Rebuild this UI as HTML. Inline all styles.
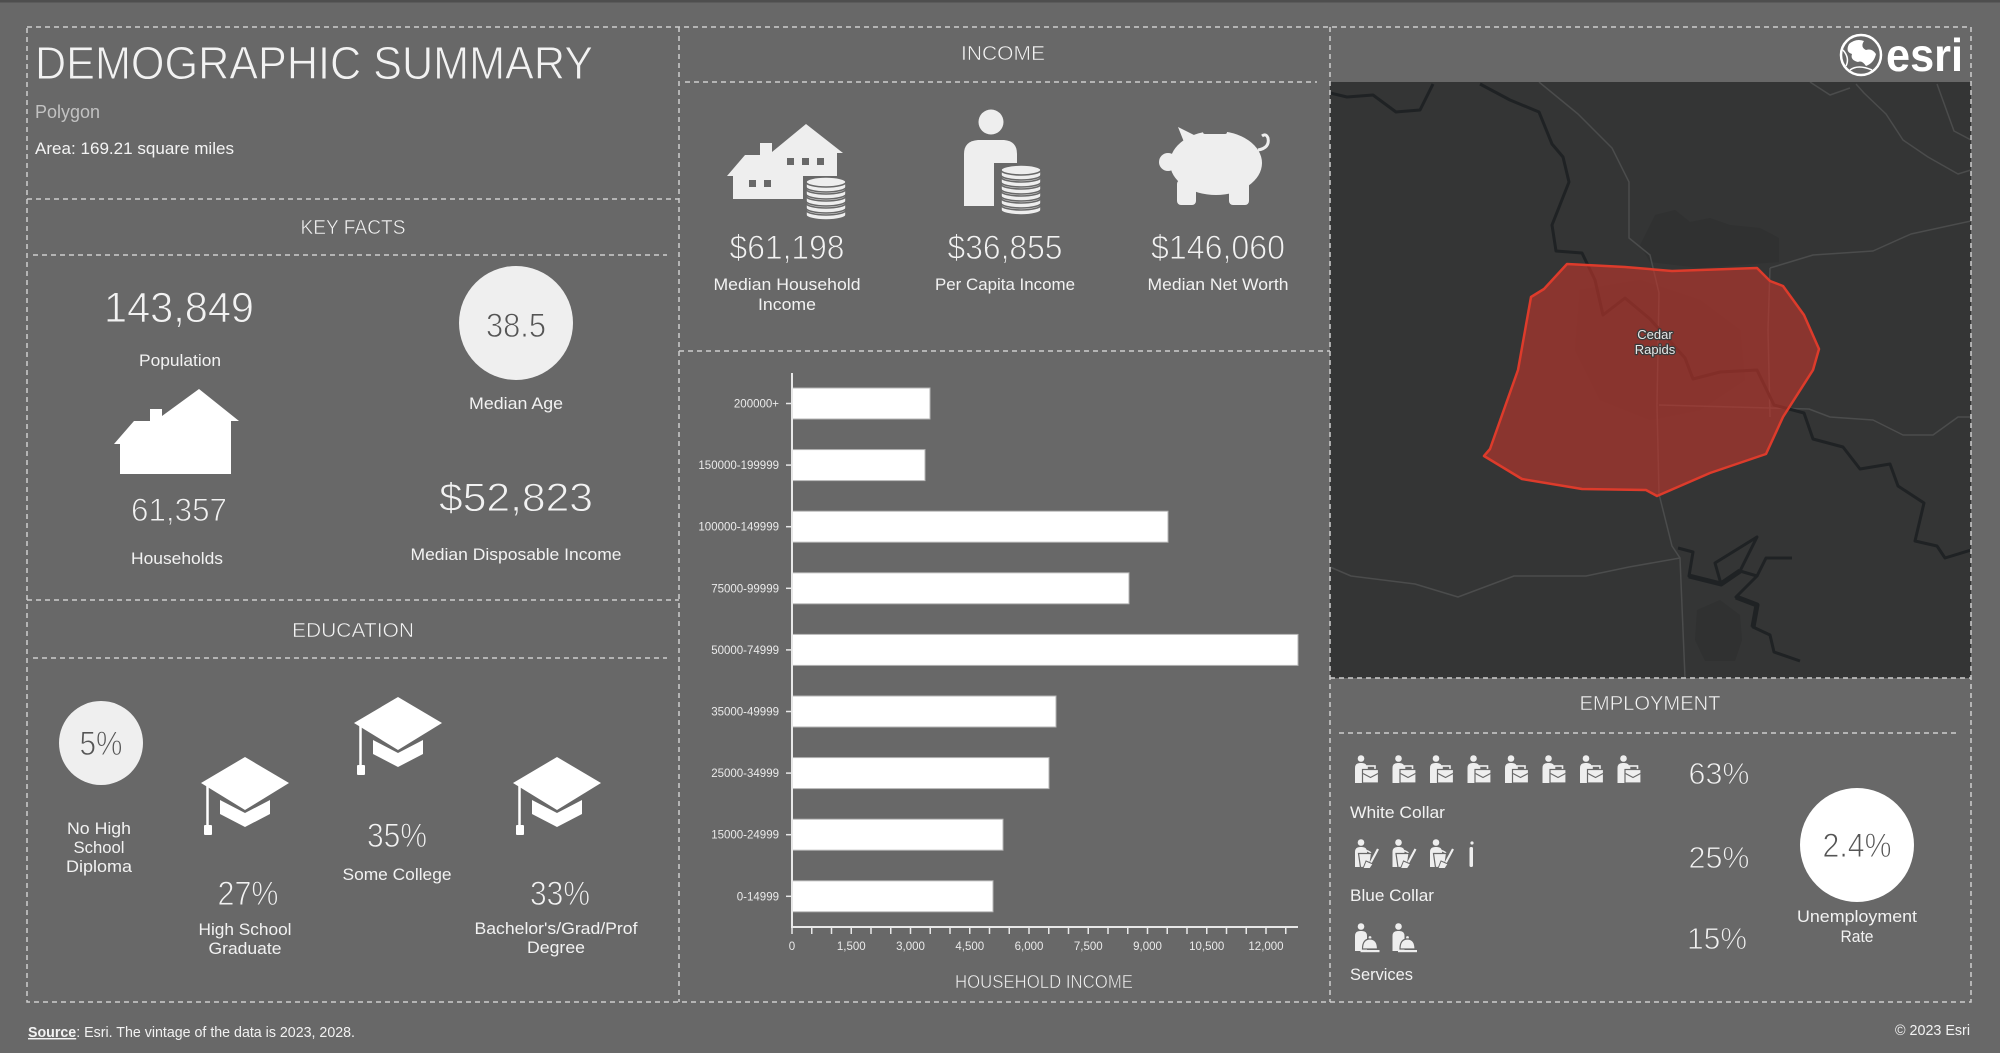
<!DOCTYPE html>
<html><head><meta charset="utf-8"><style>
html,body{margin:0;padding:0;background:#686868;}
svg{display:block;}
text{font-family:"Liberation Sans",sans-serif;}
.thin{stroke:#686868;stroke-width:0.9px;paint-order:normal;}
.thin2{stroke:#686868;stroke-width:0.5px;paint-order:normal;}
</style></head><body>
<svg width="2000" height="1053" viewBox="0 0 2000 1053" xmlns="http://www.w3.org/2000/svg">
<defs>
<clipPath id="mapclip"><rect x="1330" y="82" width="641" height="596"/></clipPath>
<g id="coin">
<path d="M-20,0 v5 a20,5 0 0 0 40,0 v-5 Z" fill="#eeeeee" stroke="#686868" stroke-width="1.6"/>
<ellipse cx="0" cy="0" rx="20" ry="5" fill="#eeeeee" stroke="#686868" stroke-width="1.6"/>
</g>
<g id="cap">
<polygon points="0,26 44,0 88,26 44,53" fill="#ffffff"/>
<polygon points="19,43 44,56 69,43 69,57 44,70 19,57" fill="#ffffff"/>
<line x1="6.5" y1="29" x2="6.5" y2="70" stroke="#ffffff" stroke-width="2.5"/>
<rect x="3" y="68" width="8" height="10" rx="1" fill="#ffffff"/>
</g>
<g id="wc">
<circle cx="7" cy="3.5" r="3.3" fill="#eeeeee"/>
<path d="M1,28 V13 Q1,8 6,8 H8 Q13,8 13,13 V28 Z" fill="#eeeeee"/>
<rect x="13" y="11" width="8" height="5" fill="none" stroke="#eeeeee" stroke-width="1.6"/>
<rect x="8.5" y="14.5" width="16" height="13.5" fill="#eeeeee" stroke="#686868" stroke-width="1.2"/>
<path d="M9,18.5 L16.5,22.5 L24,18.5" fill="none" stroke="#686868" stroke-width="1.2"/>
</g>
<g id="bc">
<circle cx="7" cy="3.5" r="3.3" fill="#eeeeee"/>
<path d="M1,28 V13 Q1,8 6,8 H8 Q13,8 13,13 V28 Z" fill="#eeeeee"/>
<path d="M5,14 Q11,9 17,14" fill="none" stroke="#eeeeee" stroke-width="1.5"/>
<path d="M4.5,14.5 L17.5,14.5 L15.5,28.5 L6.5,28.5 Z" fill="#eeeeee" stroke="#686868" stroke-width="1.2"/>
<line x1="24" y1="10" x2="16" y2="25" stroke="#eeeeee" stroke-width="2.2"/>
<polygon points="12,22 19,25 16,29.5 9,29.5" fill="#eeeeee" stroke="#686868" stroke-width="1"/>
</g>
<g id="sv">
<circle cx="7" cy="3.5" r="3.3" fill="#eeeeee"/>
<path d="M1,28 V13 Q1,8 6,8 H8 Q13,8 13,13 V28 Z" fill="#eeeeee"/>
<circle cx="16" cy="14.5" r="1.8" fill="#eeeeee" stroke="#686868" stroke-width="0.8"/>
<path d="M8.5,26 Q8.5,16 16,16 Q23.5,16 23.5,26 Z" fill="#eeeeee" stroke="#686868" stroke-width="1.2"/>
<rect x="6.5" y="27" width="19" height="2.2" fill="#eeeeee"/>
</g>
</defs>

<rect x="0" y="0" width="2000" height="1053" fill="#686868"/>
<rect x="0" y="0" width="2000" height="2.5" fill="#4e4e4e"/>

<!-- MAP -->
<rect x="1330" y="82" width="641" height="596" fill="#343535"/>
<g clip-path="url(#mapclip)" fill="none" stroke-linejoin="round">
  <path d="M1655,215 L1675,210 L1690,222 L1710,218 L1730,225 L1760,228 L1779,238 L1779,262 L1700,268 L1650,262 L1640,245 Z" fill="#303131" stroke="none"/>
  <path d="M1580,290 L1640,280 L1700,300 L1740,330 L1745,380 L1700,410 L1650,420 L1600,400 L1575,350 Z" fill="#313232" stroke="none"/>
  <path d="M1697,610 L1720,600 L1740,615 L1742,640 L1735,661 L1705,661 L1695,640 Z" fill="#303131" stroke="none"/>
  <g stroke="#4b4c4c" stroke-width="1.5">
    <polyline points="1539,82 1578,114 1612,148 1629,182 1629,238 1650,255 1659,293 1657,405 1659,494 1672,546 1680,558 1685,678"/>
    <polyline points="1770,268 1813,255 1873,251 1911,234 1971,221"/>
    <polyline points="1659,405 1809,409 1830,417 1873,420 1903,435 1933,435 1958,417 1971,417"/>
    <polyline points="1770,268 1768,330 1770,417"/>
    <polyline points="1330,567 1351,576 1415,584 1458,597 1514,576 1586,576 1629,567 1680,558"/>
    <polyline points="1856,84 1864,93 1886,114 1903,140 1928,157 1958,174 1971,170"/>
    <polyline points="1937,84 1954,131 1971,140"/>
    <polyline points="1810,82 1830,95 1850,88"/>
  </g>
  <g stroke="#1f2224" stroke-width="3">
    <polyline points="1480,84 1510,100 1539,112 1552,144 1563,157 1569,182 1552,225 1556,251 1582,253 1595,280 1603,315 1625,298 1650,319 1685,358 1693,379 1720,372 1757,370 1774,405 1804,413 1813,439 1843,447 1860,469 1890,464 1898,486 1924,503 1915,541 1937,546 1945,558 1971,550"/>
    <polyline points="1330,93 1347,97 1373,95 1396,112 1420,110 1433,84"/>
    <polyline points="1678,548 1693,552 1689,576 1721,584 1715,563 1757,537 1740,571 1757,576 1736,597 1757,605 1753,627 1770,635 1774,652 1800,661"/>
    <polyline points="1757,576 1766,558 1792,558"/>
  </g>
  <g stroke="#1f2224" stroke-width="5">
    <polyline points="1689,576 1721,584 1740,571"/>
    <polyline points="1736,597 1757,605 1753,627"/>
  </g>
  <polygon points="1567,264 1625,267 1672,271 1757,268 1770,281 1783,286 1804,315 1819,349 1813,370 1783,417 1766,454 1710,473 1657,496 1646,490 1582,489 1522,479 1484,456 1490,449 1518,370 1531,297 1544,289" fill="rgb(192,53,43)" fill-opacity="0.62" stroke="#dd3b2b" stroke-width="2.5"/>
  <g font-size="13" text-anchor="middle" fill="#e6e6e6" stroke="#3a3a3a" stroke-width="2.5" paint-order="stroke">
    <text x="1655" y="339">Cedar</text>
    <text x="1655" y="354">Rapids</text>
  </g>
</g>

<!-- DASHED FRAMES -->
<g stroke="#cdcdcd" stroke-width="1.5" stroke-dasharray="5 4" fill="none">
  <rect x="27" y="27" width="1944" height="975"/>
  <line x1="679" y1="27" x2="679" y2="1002"/>
  <line x1="1330" y1="27" x2="1330" y2="1002"/>
  <line x1="27" y1="199" x2="679" y2="199"/>
  <line x1="33" y1="255" x2="667" y2="255"/>
  <line x1="27" y1="600" x2="679" y2="600"/>
  <line x1="33" y1="658" x2="667" y2="658"/>
  <line x1="685" y1="82" x2="1317" y2="82"/>
  <line x1="679" y1="351" x2="1330" y2="351"/>
  <line x1="1330" y1="678" x2="1971" y2="678"/>
  <line x1="1339" y1="733" x2="1960" y2="733"/>
</g>

<!-- LEFT COLUMN -->
<text class="thin" x="35" y="79" font-size="46" fill="#f2f2f2" textLength="558" lengthAdjust="spacingAndGlyphs">DEMOGRAPHIC SUMMARY</text>
<text x="35" y="118" font-size="18" fill="#c2c2c2" textLength="65" lengthAdjust="spacingAndGlyphs">Polygon</text>
<text x="35" y="154" font-size="17" fill="#f4f4f4" textLength="199" lengthAdjust="spacingAndGlyphs">Area: 169.21 square miles</text>

<g text-anchor="middle" fill="#f2f2f2">
<text class="thin2" x="353" y="234" font-size="20" textLength="105" lengthAdjust="spacingAndGlyphs">KEY FACTS</text>
<text class="thin" x="179" y="322" font-size="43" textLength="150" lengthAdjust="spacingAndGlyphs">143,849</text>
<text x="180" y="366" font-size="17" textLength="82" lengthAdjust="spacingAndGlyphs">Population</text>
<text class="thin" x="179" y="521" font-size="32" textLength="96" lengthAdjust="spacingAndGlyphs">61,357</text>
<text x="177" y="564" font-size="17" textLength="92" lengthAdjust="spacingAndGlyphs">Households</text>
<text x="516" y="409" font-size="17" textLength="94" lengthAdjust="spacingAndGlyphs">Median Age</text>
<text class="thin" x="516" y="511" font-size="40" textLength="154" lengthAdjust="spacingAndGlyphs">$52,823</text>
<text x="516" y="560" font-size="17" textLength="211" lengthAdjust="spacingAndGlyphs">Median Disposable Income</text>
</g>
<circle cx="516" cy="323" r="57" fill="#efefef"/>
<text x="516" y="337" font-size="34" fill="#555555" text-anchor="middle" textLength="60" lengthAdjust="spacingAndGlyphs" stroke="#efefef" stroke-width="0.9">38.5</text>

<polygon points="114,444 134,421 150,421 150,409 162,409 162,416 199,389 239,421 231,421 231,474 120,474 120,444" fill="#ffffff"/>

<!-- EDUCATION -->
<text class="thin2" x="353" y="637" font-size="20" fill="#f2f2f2" text-anchor="middle" textLength="122" lengthAdjust="spacingAndGlyphs">EDUCATION</text>
<circle cx="101" cy="743" r="42" fill="#efefef"/>
<text x="101" y="755" font-size="34" fill="#555555" text-anchor="middle" textLength="43" lengthAdjust="spacingAndGlyphs" stroke="#efefef" stroke-width="0.9">5%</text>
<use href="#cap" x="201" y="757"/>
<use href="#cap" x="354" y="697"/>
<use href="#cap" x="513" y="757"/>
<g text-anchor="middle" fill="#f2f2f2" font-size="17">
<text x="99" y="834" textLength="64" lengthAdjust="spacingAndGlyphs">No High</text>
<text x="99" y="853" textLength="51" lengthAdjust="spacingAndGlyphs">School</text>
<text x="99" y="872" textLength="66" lengthAdjust="spacingAndGlyphs">Diploma</text>
<text class="thin" x="248" y="905" font-size="34" textLength="61" lengthAdjust="spacingAndGlyphs">27%</text>
<text x="245" y="935" textLength="93" lengthAdjust="spacingAndGlyphs">High School</text>
<text x="245" y="954" textLength="73" lengthAdjust="spacingAndGlyphs">Graduate</text>
<text class="thin" x="397" y="847" font-size="34" textLength="60" lengthAdjust="spacingAndGlyphs">35%</text>
<text x="397" y="880" textLength="109" lengthAdjust="spacingAndGlyphs">Some College</text>
<text class="thin" x="560" y="905" font-size="34" textLength="60" lengthAdjust="spacingAndGlyphs">33%</text>
<text x="556" y="934" textLength="163" lengthAdjust="spacingAndGlyphs">Bachelor's/Grad/Prof</text>
<text x="556" y="953" textLength="58" lengthAdjust="spacingAndGlyphs">Degree</text>
</g>

<text x="28" y="1037" font-size="14.5" fill="#f2f2f2" textLength="327" lengthAdjust="spacingAndGlyphs"><tspan text-decoration="underline" font-weight="bold">Source</tspan>: Esri. The vintage of the data is 2023, 2028.</text>

<!-- INCOME -->
<text class="thin2" x="1003" y="60" font-size="20" fill="#f2f2f2" text-anchor="middle" textLength="84" lengthAdjust="spacingAndGlyphs">INCOME</text>
<polygon points="727,176 745,155 760,155 760,143 772,143 772,152 806,124 843,153 837,153 837,199 733,199 733,176" fill="#eeeeee"/>
<g fill="#686868">
<rect x="787" y="158" width="7" height="7"/><rect x="802" y="158" width="7" height="7"/><rect x="817" y="158" width="7" height="7"/>
<rect x="749" y="180" width="7" height="7"/><rect x="764" y="180" width="7" height="7"/>
</g>
<rect x="803" y="176" width="46" height="46" fill="#686868"/>
<use href="#coin" x="826" y="210"/>
<use href="#coin" x="826" y="203"/>
<use href="#coin" x="826" y="196"/>
<use href="#coin" x="826" y="189"/>
<use href="#coin" x="826" y="182"/>
<circle cx="991" cy="122" r="12.5" fill="#eeeeee"/>
<path d="M964,206 V154 Q964,141 978,140 H1004 Q1017,141 1017,154 V206 Z" fill="#eeeeee"/>
<rect x="994" y="163" width="54" height="54" fill="#686868"/>
<use href="#coin" x="1021" y="205"/>
<use href="#coin" x="1021" y="198"/>
<use href="#coin" x="1021" y="191"/>
<use href="#coin" x="1021" y="184"/>
<use href="#coin" x="1021" y="177"/>
<use href="#coin" x="1021" y="170"/>
<g fill="#eeeeee">
<ellipse cx="1216" cy="163" rx="46" ry="32"/>
<ellipse cx="1168" cy="162" rx="9" ry="9"/>
<polygon points="1178,127 1200,138 1188,152"/>
<rect x="1177" y="180" width="19" height="25" rx="4"/>
<rect x="1229" y="180" width="20" height="25" rx="4"/>
</g>
<path d="M1258,150 Q1270,148 1268,138 Q1266,133 1262,136" fill="none" stroke="#eeeeee" stroke-width="3"/>
<rect x="1203" y="130" width="24" height="4" rx="2" fill="#686868"/>

<g text-anchor="middle" fill="#f2f2f2">
<text class="thin" x="787" y="259" font-size="34" textLength="115" lengthAdjust="spacingAndGlyphs">$61,198</text>
<text x="787" y="290" font-size="17" textLength="147" lengthAdjust="spacingAndGlyphs">Median Household</text>
<text x="787" y="310" font-size="17" textLength="58" lengthAdjust="spacingAndGlyphs">Income</text>
<text class="thin" x="1005" y="259" font-size="34" textLength="115" lengthAdjust="spacingAndGlyphs">$36,855</text>
<text x="1005" y="290" font-size="17" textLength="140" lengthAdjust="spacingAndGlyphs">Per Capita Income</text>
<text class="thin" x="1218" y="259" font-size="34" textLength="134" lengthAdjust="spacingAndGlyphs">$146,060</text>
<text x="1218" y="290" font-size="17" textLength="141" lengthAdjust="spacingAndGlyphs">Median Net Worth</text>
</g>

<!-- BAR CHART -->
<g fill="#ffffff" stroke="#b5b5b5" stroke-width="1">
<rect x="792" y="388" width="138" height="31"/>
<rect x="792" y="449.6" width="133" height="31"/>
<rect x="792" y="511.2" width="376" height="31"/>
<rect x="792" y="572.8" width="337" height="31"/>
<rect x="792" y="634.4" width="506" height="31"/>
<rect x="792" y="696" width="264" height="31"/>
<rect x="792" y="757.6" width="257" height="31"/>
<rect x="792" y="819.2" width="211" height="31"/>
<rect x="792" y="880.8" width="201" height="31"/>
</g>
<g stroke="#e8e8e8" stroke-width="2" fill="none">
<line x1="792" y1="373" x2="792" y2="928"/>
<line x1="791" y1="927" x2="1298" y2="927"/>
</g>
<g stroke="#e8e8e8" stroke-width="1.5">
<line x1="786" y1="403.5" x2="792" y2="403.5"/>
<line x1="786" y1="465.1" x2="792" y2="465.1"/>
<line x1="786" y1="526.7" x2="792" y2="526.7"/>
<line x1="786" y1="588.3" x2="792" y2="588.3"/>
<line x1="786" y1="649.9" x2="792" y2="649.9"/>
<line x1="786" y1="711.5" x2="792" y2="711.5"/>
<line x1="786" y1="773.1" x2="792" y2="773.1"/>
<line x1="786" y1="834.7" x2="792" y2="834.7"/>
<line x1="786" y1="896.3" x2="792" y2="896.3"/>
<line x1="792" y1="927" x2="792" y2="934"/>
<line x1="811.75" y1="927" x2="811.75" y2="934"/>
<line x1="831.5" y1="927" x2="831.5" y2="934"/>
<line x1="851.25" y1="927" x2="851.25" y2="934"/>
<line x1="871" y1="927" x2="871" y2="934"/>
<line x1="890.75" y1="927" x2="890.75" y2="934"/>
<line x1="910.5" y1="927" x2="910.5" y2="934"/>
<line x1="930.25" y1="927" x2="930.25" y2="934"/>
<line x1="950" y1="927" x2="950" y2="934"/>
<line x1="969.75" y1="927" x2="969.75" y2="934"/>
<line x1="989.5" y1="927" x2="989.5" y2="934"/>
<line x1="1009.25" y1="927" x2="1009.25" y2="934"/>
<line x1="1029" y1="927" x2="1029" y2="934"/>
<line x1="1048.75" y1="927" x2="1048.75" y2="934"/>
<line x1="1068.5" y1="927" x2="1068.5" y2="934"/>
<line x1="1088.25" y1="927" x2="1088.25" y2="934"/>
<line x1="1108" y1="927" x2="1108" y2="934"/>
<line x1="1127.75" y1="927" x2="1127.75" y2="934"/>
<line x1="1147.5" y1="927" x2="1147.5" y2="934"/>
<line x1="1167.25" y1="927" x2="1167.25" y2="934"/>
<line x1="1187" y1="927" x2="1187" y2="934"/>
<line x1="1206.75" y1="927" x2="1206.75" y2="934"/>
<line x1="1226.5" y1="927" x2="1226.5" y2="934"/>
<line x1="1246.25" y1="927" x2="1246.25" y2="934"/>
<line x1="1266" y1="927" x2="1266" y2="934"/>
<line x1="1285.75" y1="927" x2="1285.75" y2="934"/>
</g>
<g font-size="11.5" fill="#eaeaea" text-anchor="end">
<text x="779" y="407.5">200000+</text>
<text x="779" y="469.1">150000-199999</text>
<text x="779" y="530.7">100000-149999</text>
<text x="779" y="592.3">75000-99999</text>
<text x="779" y="653.9">50000-74999</text>
<text x="779" y="715.5">35000-49999</text>
<text x="779" y="777.1">25000-34999</text>
<text x="779" y="838.7">15000-24999</text>
<text x="779" y="900.3">0-14999</text>
</g>
<g font-size="11.5" fill="#eaeaea" text-anchor="middle">
<text x="792" y="950">0</text>
<text x="851.25" y="950">1,500</text>
<text x="910.5" y="950">3,000</text>
<text x="969.75" y="950">4,500</text>
<text x="1029" y="950">6,000</text>
<text x="1088.25" y="950">7,500</text>
<text x="1147.5" y="950">9,000</text>
<text x="1206.75" y="950">10,500</text>
<text x="1266" y="950">12,000</text>
</g>
<text class="thin2" x="1044" y="988" font-size="18" fill="#f2f2f2" text-anchor="middle" textLength="178" lengthAdjust="spacingAndGlyphs">HOUSEHOLD INCOME</text>

<!-- ESRI LOGO -->
<g>
<circle cx="1861" cy="55" r="20" fill="none" stroke="#ffffff" stroke-width="2.5"/>
<path d="M1849,44 Q1856,38 1864,41 Q1860,47 1866,50 Q1872,48 1876,54 Q1874,63 1866,66 Q1862,60 1858,62 Q1850,60 1852,54 Q1845,52 1849,44 Z" fill="#ffffff"/>
<path d="M1843,50 Q1850,58 1846,66" fill="none" stroke="#ffffff" stroke-width="1.5"/>
<path d="M1850,70 Q1858,64 1872,70" fill="none" stroke="#ffffff" stroke-width="1.5"/>
</g>
<text x="1886" y="71" font-size="46" font-weight="bold" fill="#ffffff" textLength="77" lengthAdjust="spacingAndGlyphs">esri</text>

<!-- EMPLOYMENT -->
<text class="thin2" x="1650" y="710" font-size="20" fill="#f2f2f2" text-anchor="middle" textLength="141" lengthAdjust="spacingAndGlyphs">EMPLOYMENT</text>
<use href="#wc" x="1354" y="755"/>
<use href="#wc" x="1391.5" y="755"/>
<use href="#wc" x="1429" y="755"/>
<use href="#wc" x="1466.5" y="755"/>
<use href="#wc" x="1504" y="755"/>
<use href="#wc" x="1541.5" y="755"/>
<use href="#wc" x="1579" y="755"/>
<use href="#wc" x="1616.5" y="755"/>
<use href="#bc" x="1354" y="839"/>
<use href="#bc" x="1391.5" y="839"/>
<use href="#bc" x="1429" y="839"/>
<circle cx="1472" cy="843" r="1.6" fill="#eeeeee"/>
<rect x="1469.5" y="847" width="3.5" height="20" rx="1.5" fill="#eeeeee"/>
<use href="#sv" x="1354" y="923"/>
<use href="#sv" x="1391.5" y="923"/>

<g fill="#f2f2f2">
<text class="thin" x="1719" y="784" font-size="31" text-anchor="middle" textLength="61" lengthAdjust="spacingAndGlyphs">63%</text>
<text class="thin" x="1719" y="868" font-size="31" text-anchor="middle" textLength="61" lengthAdjust="spacingAndGlyphs">25%</text>
<text class="thin" x="1717" y="949" font-size="31" text-anchor="middle" textLength="60" lengthAdjust="spacingAndGlyphs">15%</text>
<text x="1350" y="818" font-size="17" textLength="95" lengthAdjust="spacingAndGlyphs">White Collar</text>
<text x="1350" y="901" font-size="17" textLength="84" lengthAdjust="spacingAndGlyphs">Blue Collar</text>
<text x="1350" y="980" font-size="17" textLength="63" lengthAdjust="spacingAndGlyphs">Services</text>
<text x="1857" y="922" font-size="17" text-anchor="middle" textLength="120" lengthAdjust="spacingAndGlyphs">Unemployment</text>
<text x="1857" y="942" font-size="17" text-anchor="middle" textLength="33" lengthAdjust="spacingAndGlyphs">Rate</text>
<text x="1970" y="1035" font-size="15" text-anchor="end" textLength="75" lengthAdjust="spacingAndGlyphs">© 2023 Esri</text>
</g>
<circle cx="1857" cy="845" r="57" fill="#ffffff"/>
<text x="1857" y="857" font-size="34" fill="#555555" text-anchor="middle" textLength="69" lengthAdjust="spacingAndGlyphs" stroke="#ffffff" stroke-width="0.9">2.4%</text>
</svg>
</body></html>
